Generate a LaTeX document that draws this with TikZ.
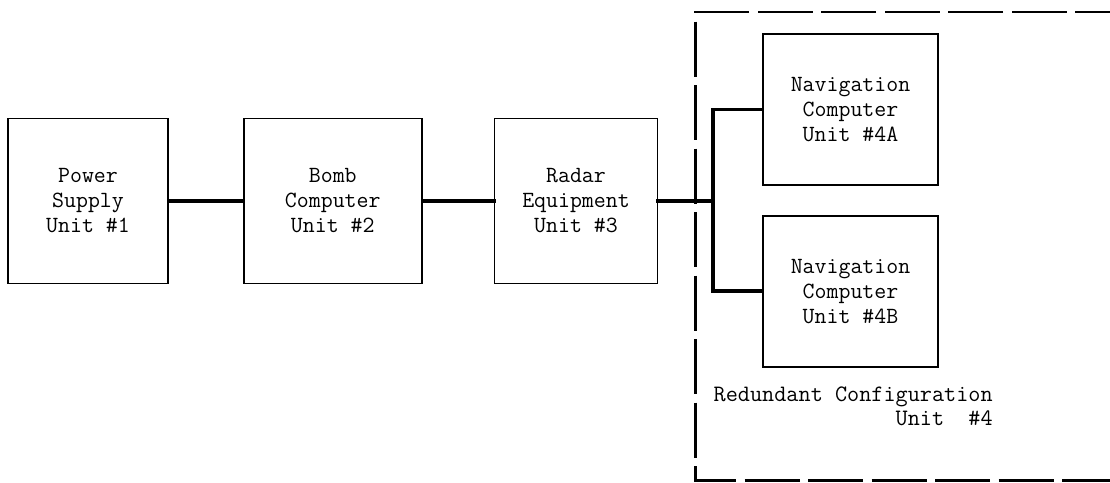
\documentclass[tikz,border=0pt]{standalone}
\usepackage{tikz}
\usetikzlibrary{positioning, calc}
\tikzset{
  unitbox/.style={rectangle, draw=black, line width=1pt, align=center,
    minimum height=3.3cm, inner sep=0pt,
    font=\ttfamily\fontsize{13.2}{14.2}\selectfont},
  navbox/.style={unitbox, minimum width=3.5cm, minimum height=3.02cm},
  link/.style={line width=2.2pt, line cap=rect},
  frame/.style={line width=1.7pt, dash pattern=on 1.1cm off 0.17cm},
  note/.style={align=right, inner sep=0pt,
    font=\ttfamily\fontsize{13.4}{14.2}\selectfont},
}

\begin{document}
\begin{tikzpicture}
  \clip (0,0) rectangle (22.2,-9.64);
  \fill[white] (0,0) rectangle (22.2,-9.64);

  % Chain of units
  \node[unitbox, minimum width=3.2cm]                 (power) at (1.76,-4.02) {Power\\Supply\\Unit \#1};
  \node[unitbox, minimum width=3.56cm, right=1.48cm of power] (bomb)  {Bomb\\Computer\\Unit \#2};
  \node[unitbox, minimum width=3.26cm, right=1.42cm of bomb]  (radar) {Radar\\Equipment\\Unit \#3};

  % Redundant pair
  \node[navbox]                      (navA) at (17.01,-2.19) {Navigation\\Computer\\Unit \#4A};
  \node[navbox, below=0.58cm of navA] (navB)                  {Navigation\\Computer\\Unit \#4B};
  \coordinate[right=1.1cm of radar.east] (split);

  % Links
  \draw[link] (power) -- (bomb);
  \draw[link] (bomb) -- (radar);
  \draw[link] (radar) -- (split);
  \draw[link] (navA) -| (split) |- (navB);

  % Unit #4 boundary
  \coordinate (grp-nw) at (13.9,-0.24);
  \coordinate (grp-sw) at (13.9,-9.6);
  \draw[frame] (22.6,-0.24) -- (grp-nw) -- (grp-sw) -- (22.6,-9.6);
  \node[note, anchor=north east] (grplabel) at (19.86,-7.72)
    {Redundant Configuration\\Unit~~\#4};
\end{tikzpicture}
\end{document}
